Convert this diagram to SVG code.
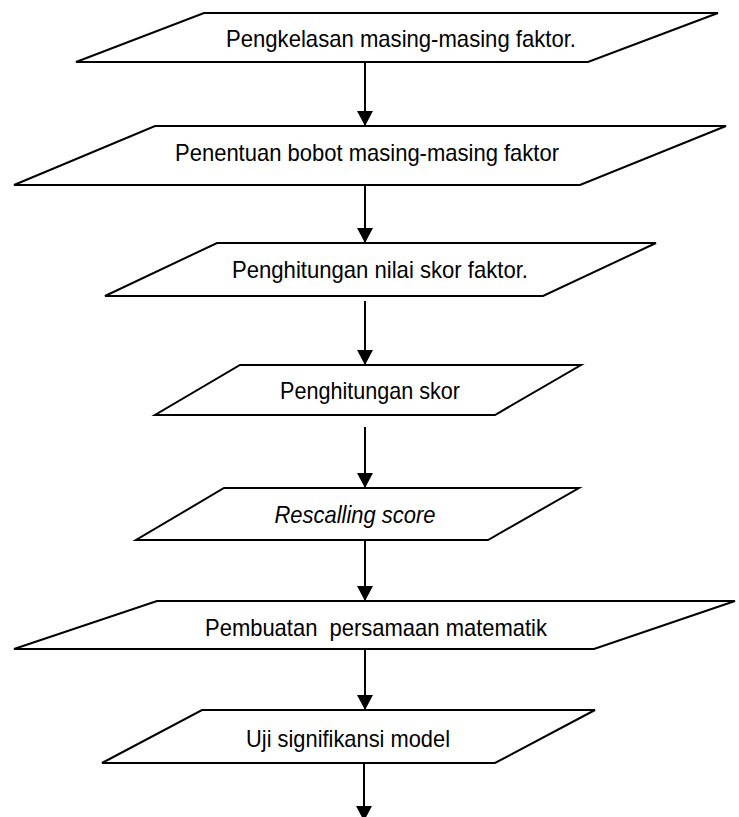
<svg xmlns="http://www.w3.org/2000/svg" width="739" height="817" viewBox="0 0 739 817">
<style>
.box{fill:#fff;stroke:#000;stroke-width:2;stroke-linejoin:miter}
.lbl{font-family:"Liberation Sans",Arial,sans-serif;font-size:24px;fill:#000;text-anchor:middle;white-space:pre}
.it{font-style:italic}
.conn{stroke:#000;stroke-width:2;fill:none}
</style>
<defs>
<marker id="ah" markerUnits="userSpaceOnUse" markerWidth="16" markerHeight="16" viewBox="0 0 16 16" refX="15" refY="8" orient="auto">
<path d="M0,0 L15,8 L0,16 Z" fill="#000"/>
</marker>
</defs>
<rect width="739" height="817" fill="#fff"/>
<g id="connectors">
<line class="conn" x1="365" y1="62" x2="365" y2="126" marker-end="url(#ah)"/>
<line class="conn" x1="365" y1="185" x2="365" y2="243" marker-end="url(#ah)"/>
<line class="conn" x1="365" y1="301" x2="365" y2="365" marker-end="url(#ah)"/>
<line class="conn" x1="365" y1="427" x2="365" y2="488" marker-end="url(#ah)"/>
<line class="conn" x1="365" y1="540" x2="365" y2="601" marker-end="url(#ah)"/>
<line class="conn" x1="365" y1="649" x2="365" y2="710" marker-end="url(#ah)"/>
<line class="conn" x1="364" y1="763" x2="364" y2="821" marker-end="url(#ah)"/>
</g>
<g id="n1">
<polygon class="box" points="204,13 718,13 588,62 76,62"/>
<text class="lbl" x="401" y="47" textLength="350" lengthAdjust="spacingAndGlyphs">Pengkelasan masing-masing faktor.</text>
</g>
<g id="n2">
<polygon class="box" points="155,126 726,126 580,185 14,185"/>
<text class="lbl" x="367" y="161" textLength="384" lengthAdjust="spacingAndGlyphs">Penentuan bobot masing-masing faktor</text>
</g>
<g id="n3">
<polygon class="box" points="217,243 656,243 543,296 105,296"/>
<text class="lbl" x="380" y="278" textLength="296" lengthAdjust="spacingAndGlyphs">Penghitungan nilai skor faktor.</text>
</g>
<g id="n4">
<polygon class="box" points="240,365 581,365 495,415 155,415"/>
<text class="lbl" x="370" y="399" textLength="180" lengthAdjust="spacingAndGlyphs">Penghitungan skor</text>
</g>
<g id="n5">
<polygon class="box" points="224,488 579,488 488,540 136,540"/>
<text class="lbl it" x="355" y="523" textLength="161" lengthAdjust="spacingAndGlyphs">Rescalling score</text>
</g>
<g id="n6">
<polygon class="box" points="157,601 735,601 594,649 14,649"/>
<text class="lbl" x="376" y="636" xml:space="preserve" textLength="342" lengthAdjust="spacingAndGlyphs">Pembuatan  persamaan matematik</text>
</g>
<g id="n7">
<polygon class="box" points="202,710 595,710 495,763 102,763"/>
<text class="lbl" x="348" y="747" textLength="204" lengthAdjust="spacingAndGlyphs">Uji signifikansi model</text>
</g>
</svg>
